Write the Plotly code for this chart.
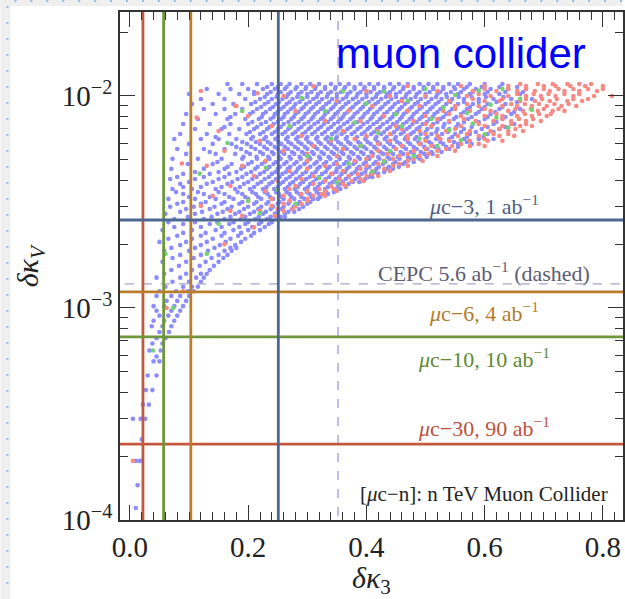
import math
import plotly.graph_objects as go

# ---------------- data ----------------
X_RANGE = [-0.0168, 0.834]
Y_LOG_RANGE = [-4.0, -1.604]

X_TICKS = [0.0, 0.2, 0.4, 0.6, 0.8]
X_TICK_TEXT = ["0.0", "0.2", "0.4", "0.6", "0.8"]
Y_TICKS = [1e-4, 1e-3, 1e-2]
Y_TICK_TEXT = ["10<sup>−4</sup>", "10<sup>−3</sup>", "10<sup>−2</sup>"]

# muon collider bounds: (delta kappa_3, delta kappa_V)
BOUND_NAMES = ["μc-30", "μc-10", "μc-6", "μc-3"]
BOUND_K3 = [0.022, 0.057, 0.103, 0.251]
BOUND_KV = [0.000228, 0.00073, 0.00119, 0.0026]
BOUND_COLORS = ["#c4583e", "#6e963a", "#b87e2c", "#4d6890"]
CEPC_K3 = 0.352
CEPC_KV = 0.00130

# scan points, rows of (delta kappa_V, [delta kappa_3 ...])
BLUE_ROWS = [
    (0.01139, [0.165, 0.19, 0.215, 0.24, 0.255, 0.27, 0.29, 0.305, 0.32, 0.34, 0.355, 0.37, 0.39, 0.405, 0.42, 0.44, 0.455, 0.47, 0.49, 0.505, 0.52, 0.54, 0.555, 0.575, 0.60, 0.63]),
    (0.01103, [0.232, 0.25, 0.265, 0.282, 0.298, 0.314, 0.33, 0.348, 0.364, 0.38, 0.397, 0.413, 0.43, 0.447, 0.463, 0.48, 0.497, 0.513, 0.53, 0.548, 0.57, 0.595, 0.625, 0.655]),
    (0.01079, [0.13, 0.17, 0.20, 0.225, 0.245, 0.262, 0.28, 0.297, 0.313, 0.33, 0.347, 0.362, 0.38, 0.396, 0.413, 0.43, 0.445, 0.462, 0.48, 0.497, 0.513, 0.53, 0.55, 0.565, 0.585, 0.61, 0.64, 0.67]),
    (0.01044, [0.21, 0.238, 0.255, 0.272, 0.29, 0.307, 0.323, 0.34, 0.357, 0.373, 0.39, 0.407, 0.423, 0.44, 0.457, 0.473, 0.49, 0.507, 0.525, 0.543, 0.56, 0.58, 0.605, 0.635, 0.665]),
    (0.01022, [0.10, 0.15, 0.185, 0.21, 0.232, 0.25, 0.268, 0.285, 0.30, 0.318, 0.335, 0.35, 0.368, 0.385, 0.40, 0.418, 0.435, 0.45, 0.468, 0.485, 0.50, 0.52, 0.535, 0.555, 0.575, 0.60, 0.625, 0.66]),
    (0.00989, [0.228, 0.248, 0.265, 0.283, 0.30, 0.316, 0.333, 0.35, 0.366, 0.383, 0.40, 0.416, 0.433, 0.45, 0.466, 0.483, 0.50, 0.518, 0.536, 0.556, 0.578, 0.602, 0.632]),
    (0.00968, [0.12, 0.16, 0.195, 0.22, 0.24, 0.258, 0.275, 0.292, 0.31, 0.325, 0.342, 0.36, 0.377, 0.393, 0.41, 0.425, 0.442, 0.46, 0.475, 0.492, 0.51, 0.527, 0.545, 0.565, 0.59, 0.615, 0.645, 0.68]),
    (0.00937, [0.212, 0.234, 0.252, 0.27, 0.287, 0.304, 0.32, 0.337, 0.354, 0.37, 0.387, 0.404, 0.42, 0.437, 0.454, 0.47, 0.487, 0.505, 0.522, 0.542, 0.565, 0.59, 0.62, 0.655]),
    (0.00917, [0.105, 0.14, 0.175, 0.205, 0.228, 0.247, 0.265, 0.28, 0.298, 0.315, 0.332, 0.348, 0.365, 0.382, 0.398, 0.415, 0.432, 0.448, 0.465, 0.482, 0.50, 0.517, 0.535, 0.555, 0.58, 0.605, 0.635]),
    (0.00887, [0.222, 0.242, 0.26, 0.277, 0.294, 0.31, 0.327, 0.344, 0.36, 0.377, 0.394, 0.41, 0.427, 0.444, 0.46, 0.477, 0.494, 0.512, 0.53, 0.55, 0.575, 0.60, 0.63]),
    (0.00868, [0.125, 0.16, 0.19, 0.215, 0.237, 0.255, 0.272, 0.29, 0.306, 0.323, 0.34, 0.356, 0.373, 0.39, 0.406, 0.423, 0.44, 0.456, 0.473, 0.49, 0.508, 0.525, 0.545, 0.57, 0.595, 0.625, 0.66]),
    (0.00840, [0.208, 0.23, 0.25, 0.267, 0.285, 0.302, 0.318, 0.335, 0.352, 0.368, 0.385, 0.402, 0.418, 0.435, 0.452, 0.468, 0.485, 0.503, 0.52, 0.54, 0.565, 0.59, 0.618, 0.65]),
    (0.00822, [0.095, 0.145, 0.178, 0.203, 0.225, 0.245, 0.262, 0.28, 0.297, 0.313, 0.33, 0.347, 0.363, 0.38, 0.397, 0.413, 0.43, 0.447, 0.463, 0.48, 0.498, 0.515, 0.535, 0.56, 0.585, 0.61, 0.645]),
    (0.00796, [0.17, 0.223, 0.243, 0.26, 0.277, 0.294, 0.31, 0.327, 0.344, 0.36, 0.377, 0.394, 0.41, 0.427, 0.444, 0.46, 0.477, 0.494, 0.512, 0.53, 0.552, 0.578, 0.605, 0.635]),
    (0.00779, [0.115, 0.165, 0.195, 0.218, 0.238, 0.256, 0.273, 0.29, 0.307, 0.323, 0.34, 0.357, 0.373, 0.39, 0.407, 0.423, 0.44, 0.457, 0.473, 0.49, 0.507, 0.525, 0.548, 0.572, 0.60, 0.63]),
    (0.00754, [0.207, 0.23, 0.25, 0.268, 0.285, 0.302, 0.318, 0.335, 0.352, 0.368, 0.385, 0.402, 0.418, 0.435, 0.452, 0.468, 0.485, 0.502, 0.52, 0.54, 0.565, 0.59, 0.62]),
    (0.00738, [0.09, 0.135, 0.17, 0.20, 0.222, 0.243, 0.26, 0.278, 0.295, 0.312, 0.328, 0.345, 0.362, 0.378, 0.395, 0.412, 0.428, 0.445, 0.462, 0.478, 0.495, 0.513, 0.532, 0.555, 0.58, 0.615, 0.65]),
    (0.00714, [0.16, 0.215, 0.236, 0.255, 0.272, 0.29, 0.306, 0.323, 0.34, 0.356, 0.373, 0.39, 0.406, 0.423, 0.44, 0.456, 0.473, 0.49, 0.51, 0.53, 0.552, 0.578, 0.605, 0.635]),
    (0.00699, [0.11, 0.155, 0.185, 0.21, 0.232, 0.25, 0.268, 0.285, 0.302, 0.318, 0.335, 0.352, 0.368, 0.385, 0.402, 0.418, 0.435, 0.452, 0.468, 0.485, 0.503, 0.52, 0.54, 0.565, 0.595, 0.625]),
    (0.00676, [0.203, 0.226, 0.245, 0.263, 0.28, 0.297, 0.313, 0.33, 0.347, 0.363, 0.38, 0.397, 0.413, 0.43, 0.447, 0.463, 0.48, 0.50, 0.518, 0.538, 0.56, 0.585, 0.615]),
    (0.00662, [0.085, 0.13, 0.168, 0.197, 0.22, 0.24, 0.258, 0.275, 0.292, 0.308, 0.325, 0.342, 0.358, 0.375, 0.392, 0.408, 0.425, 0.442, 0.458, 0.475, 0.492, 0.51, 0.528, 0.55, 0.575, 0.605]),
    (0.00640, [0.145, 0.208, 0.23, 0.25, 0.267, 0.284, 0.30, 0.317, 0.334, 0.35, 0.367, 0.384, 0.40, 0.417, 0.434, 0.45, 0.467, 0.485, 0.503, 0.522, 0.545, 0.57, 0.598]),
    (0.00627, [0.075, 0.12, 0.15, 0.18, 0.205, 0.227, 0.246, 0.264, 0.281, 0.298, 0.315, 0.331, 0.348, 0.365, 0.381, 0.398, 0.415, 0.431, 0.448, 0.465, 0.482, 0.50, 0.518, 0.54, 0.565, 0.59, 0.615]),
    (0.00607, [0.19, 0.213, 0.233, 0.251, 0.268, 0.285, 0.302, 0.319, 0.336, 0.352, 0.369, 0.386, 0.402, 0.419, 0.436, 0.452, 0.47, 0.488, 0.506, 0.525, 0.548, 0.57]),
    (0.00594, [0.10, 0.14, 0.172, 0.198, 0.22, 0.238, 0.256, 0.273, 0.29, 0.307, 0.323, 0.34, 0.357, 0.373, 0.39, 0.407, 0.423, 0.44, 0.457, 0.474, 0.492, 0.51, 0.53, 0.555, 0.578]),
    (0.00575, [0.18, 0.205, 0.227, 0.245, 0.262, 0.279, 0.296, 0.313, 0.33, 0.346, 0.363, 0.38, 0.396, 0.413, 0.43, 0.446, 0.463, 0.48, 0.498, 0.516, 0.535, 0.555]),
    (0.00562, [0.08, 0.125, 0.16, 0.188, 0.212, 0.232, 0.25, 0.267, 0.284, 0.30, 0.317, 0.334, 0.35, 0.367, 0.384, 0.40, 0.417, 0.434, 0.45, 0.467, 0.485, 0.503, 0.522, 0.54]),
    (0.00544, [0.135, 0.197, 0.22, 0.24, 0.257, 0.274, 0.291, 0.308, 0.324, 0.341, 0.358, 0.374, 0.391, 0.408, 0.424, 0.441, 0.458, 0.475, 0.492, 0.51, 0.527]),
    (0.00533, [0.095, 0.145, 0.178, 0.203, 0.225, 0.243, 0.261, 0.278, 0.295, 0.311, 0.328, 0.345, 0.361, 0.378, 0.395, 0.411, 0.428, 0.445, 0.462, 0.48, 0.498, 0.512]),
    (0.00516, [0.192, 0.214, 0.234, 0.252, 0.27, 0.287, 0.303, 0.32, 0.336, 0.353, 0.37, 0.386, 0.403, 0.42, 0.436, 0.453, 0.47, 0.487, 0.502]),
    (0.00505, [0.072, 0.115, 0.155, 0.19, 0.215, 0.236, 0.255, 0.272, 0.289, 0.305, 0.322, 0.339, 0.355, 0.372, 0.389, 0.405, 0.422, 0.439, 0.456, 0.473, 0.49]),
    (0.00488, [0.148, 0.206, 0.228, 0.247, 0.265, 0.282, 0.299, 0.316, 0.332, 0.349, 0.366, 0.382, 0.399, 0.416, 0.432, 0.449, 0.466, 0.48]),
    (0.00478, [0.098, 0.14, 0.172, 0.20, 0.223, 0.243, 0.261, 0.278, 0.295, 0.312, 0.328, 0.345, 0.362, 0.378, 0.395, 0.412, 0.428, 0.445, 0.462]),
    (0.00463, [0.165, 0.193, 0.216, 0.236, 0.254, 0.271, 0.288, 0.305, 0.321, 0.338, 0.355, 0.371, 0.388, 0.405, 0.421, 0.438, 0.455]),
    (0.00453, [0.07, 0.125, 0.16, 0.188, 0.212, 0.232, 0.25, 0.267, 0.284, 0.30, 0.317, 0.334, 0.35, 0.367, 0.384, 0.40, 0.417, 0.434, 0.445]),
    (0.00438, [0.11, 0.15, 0.18, 0.205, 0.227, 0.246, 0.264, 0.281, 0.298, 0.314, 0.331, 0.348, 0.364, 0.381, 0.398, 0.414, 0.43]),
    (0.00429, [0.09, 0.135, 0.168, 0.197, 0.22, 0.24, 0.258, 0.275, 0.292, 0.308, 0.325, 0.342, 0.358, 0.375, 0.392, 0.408, 0.42]),
    (0.00415, [0.08, 0.125, 0.16, 0.19, 0.214, 0.235, 0.253, 0.27, 0.287, 0.304, 0.32, 0.337, 0.354, 0.37, 0.387, 0.404, 0.41]),
    (0.00406, [0.068, 0.11, 0.15, 0.182, 0.207, 0.228, 0.247, 0.264, 0.281, 0.298, 0.315, 0.331, 0.348, 0.365, 0.381, 0.398]),
    (0.00393, [0.10, 0.14, 0.173, 0.20, 0.222, 0.241, 0.259, 0.276, 0.293, 0.31, 0.327, 0.343, 0.36, 0.377, 0.388]),
    (0.00385, [0.085, 0.13, 0.165, 0.193, 0.216, 0.236, 0.254, 0.271, 0.288, 0.305, 0.321, 0.338, 0.355, 0.37]),
    (0.00372, [0.09, 0.12, 0.155, 0.186, 0.21, 0.231, 0.25, 0.267, 0.284, 0.301, 0.318, 0.335, 0.352, 0.365]),
    (0.00364, [0.072, 0.105, 0.145, 0.178, 0.203, 0.225, 0.244, 0.262, 0.279, 0.296, 0.313, 0.33, 0.345, 0.356]),
    (0.00352, [0.078, 0.115, 0.15, 0.182, 0.207, 0.228, 0.247, 0.265, 0.282, 0.299, 0.316, 0.332, 0.345]),
    (0.00345, [0.09, 0.125, 0.16, 0.19, 0.213, 0.233, 0.252, 0.27, 0.287, 0.304, 0.32, 0.335]),
    (0.00334, [0.10, 0.135, 0.168, 0.195, 0.217, 0.237, 0.256, 0.273, 0.29, 0.307, 0.322]),
    (0.00327, [0.065, 0.11, 0.145, 0.175, 0.20, 0.222, 0.242, 0.26, 0.278, 0.295, 0.31, 0.318]),
    (0.00316, [0.09, 0.128, 0.16, 0.19, 0.214, 0.234, 0.253, 0.27, 0.287, 0.305]),
    (0.00310, [0.08, 0.12, 0.155, 0.185, 0.21, 0.231, 0.25, 0.268, 0.285, 0.30]),
    (0.00300, [0.068, 0.108, 0.143, 0.172, 0.20, 0.222, 0.242, 0.26, 0.277, 0.293]),
    (0.00293, [0.095, 0.135, 0.165, 0.193, 0.217, 0.238, 0.257, 0.274, 0.286]),
    (0.00284, [0.085, 0.122, 0.157, 0.185, 0.21, 0.23, 0.25, 0.268, 0.278]),
    (0.00278, [0.06, 0.11, 0.148, 0.178, 0.203, 0.225, 0.245, 0.262]),
    (0.00269, [0.098, 0.138, 0.17, 0.195, 0.218, 0.238, 0.255, 0.262]),
    (0.00263, [0.075, 0.125, 0.16, 0.188, 0.212, 0.232, 0.25]),
    (0.00254, [0.065, 0.11, 0.148, 0.175, 0.20, 0.222, 0.24]),
    (0.00249, [0.09, 0.135, 0.168, 0.195, 0.218, 0.235]),
    (0.00241, [0.075, 0.12, 0.155, 0.185, 0.207, 0.228]),
    (0.00233, [0.055, 0.105, 0.145, 0.175, 0.20, 0.22]),
    (0.00226, [0.09, 0.128, 0.16, 0.188, 0.21]),
    (0.00219, [0.08, 0.12, 0.155, 0.183, 0.205]),
    (0.00212, [0.065, 0.105, 0.14, 0.17, 0.195]),
    (0.00205, [0.05, 0.095, 0.13, 0.162, 0.188]),
    (0.00198, [0.085, 0.12, 0.152, 0.178]),
    (0.00192, [0.07, 0.11, 0.143, 0.17, 0.18]),
    (0.00186, [0.058, 0.10, 0.132, 0.16, 0.172]),
    (0.00178, [0.085, 0.12, 0.15, 0.165]),
    (0.00172, [0.072, 0.108, 0.138, 0.158]),
    (0.00165, [0.055, 0.095, 0.128, 0.15]),
    (0.00158, [0.083, 0.118, 0.142]),
    (0.00151, [0.07, 0.105, 0.135]),
    (0.00145, [0.058, 0.095, 0.12, 0.13]),
    (0.00139, [0.045, 0.085, 0.112, 0.125]),
    (0.00133, [0.072, 0.10, 0.12]),
    (0.00126, [0.06, 0.09, 0.105, 0.115]),
    (0.00120, [0.05, 0.078, 0.098, 0.108]),
    (0.00114, [0.045, 0.07, 0.085, 0.10]),
    (0.00108, [0.062, 0.08, 0.095]),
    (0.00102, [0.04, 0.058, 0.075, 0.09]),
    (0.00097, [0.045, 0.07, 0.085]),
    (0.00092, [0.05, 0.065, 0.08]),
    (0.00087, [0.04, 0.058, 0.075]),
    (0.00082, [0.037, 0.055, 0.07]),
    (0.00077, [0.05, 0.066]),
    (0.00072, [0.045, 0.06]),
    (0.00068, [0.038, 0.055]),
    (0.00063, [0.033, 0.052]),
    (0.00059, [0.045]),
    (0.00056, [0.04, 0.05]),
    (0.00048, [0.03, 0.045]),
    (0.00041, [0.027, 0.038]),
    (0.00035, [0.022, 0.032]),
    (0.00030, [0.005, 0.018, 0.026]),
    (0.00024, [0.02]),
    (0.00019, [0.01, 0.017]),
    (0.000146, [0.013]),
    (0.000114, [0.01]),
]

RED_ROWS = [
    (0.01139, [0.66, 0.69, 0.715, 0.74, 0.76, 0.78]),
    (0.01115, [0.31, 0.47, 0.56, 0.60, 0.64, 0.67, 0.70, 0.72, 0.745, 0.77, 0.80]),
    (0.01079, [0.60, 0.64, 0.67, 0.70, 0.725, 0.75, 0.775, 0.80]),
    (0.01056, [0.12, 0.40, 0.52, 0.58, 0.62, 0.655, 0.685, 0.71, 0.735, 0.76, 0.79]),
    (0.01022, [0.59, 0.655, 0.683, 0.708, 0.735, 0.76]),
    (0.01000, [0.26, 0.44, 0.50, 0.57, 0.61, 0.64, 0.67, 0.695, 0.72, 0.75, 0.785, 0.815]),
    (0.00968, [0.58, 0.63, 0.67, 0.697, 0.722, 0.75, 0.775]),
    (0.00947, [0.35, 0.46, 0.54, 0.60, 0.625, 0.66, 0.685, 0.71, 0.74, 0.765]),
    (0.00917, [0.57, 0.645, 0.668, 0.692, 0.718, 0.742]),
    (0.00897, [0.18, 0.41, 0.49, 0.55, 0.59, 0.63, 0.655, 0.68, 0.705, 0.73, 0.755]),
    (0.00868, [0.55, 0.60, 0.652, 0.678, 0.70, 0.725]),
    (0.00850, [0.28, 0.37, 0.47, 0.53, 0.575, 0.61, 0.64, 0.665, 0.69, 0.715, 0.735]),
    (0.00822, [0.54, 0.62, 0.668, 0.692, 0.712]),
    (0.00805, [0.20, 0.43, 0.50, 0.56, 0.60, 0.63, 0.655, 0.68, 0.705]),
    (0.00779, [0.52, 0.565, 0.63, 0.658, 0.682]),
    (0.00762, [0.33, 0.39, 0.48, 0.54, 0.585, 0.615, 0.645, 0.67, 0.695]),
    (0.00738, [0.50, 0.59, 0.645, 0.67]),
    (0.00722, [0.24, 0.45, 0.51, 0.56, 0.60, 0.63, 0.66, 0.68]),
    (0.00699, [0.46, 0.55, 0.625, 0.652]),
    (0.00684, [0.15, 0.36, 0.42, 0.49, 0.535, 0.575, 0.61, 0.64, 0.665]),
    (0.00662, [0.44, 0.50, 0.57, 0.615, 0.64]),
    (0.00648, [0.29, 0.40, 0.47, 0.52, 0.555, 0.59, 0.625, 0.65]),
    (0.00627, [0.38, 0.47, 0.525, 0.60]),
    (0.00614, [0.22, 0.34, 0.44, 0.50, 0.54, 0.575, 0.605, 0.63]),
    (0.00594, [0.42, 0.49, 0.56, 0.59]),
    (0.00581, [0.31, 0.39, 0.46, 0.51, 0.545, 0.575, 0.60]),
    (0.00562, [0.36, 0.45, 0.50, 0.535]),
    (0.00551, [0.16, 0.26, 0.42, 0.48, 0.52, 0.55]),
    (0.00533, [0.30, 0.435, 0.47, 0.505]),
    (0.00521, [0.35, 0.41, 0.455, 0.49, 0.52]),
    (0.00505, [0.40, 0.445, 0.48]),
    (0.00494, [0.23, 0.30, 0.38, 0.43, 0.47, 0.495]),
    (0.00478, [0.35, 0.42, 0.455]),
    (0.00468, [0.13, 0.19, 0.33, 0.40, 0.445, 0.47]),
    (0.00453, [0.30, 0.39, 0.43]),
    (0.00443, [0.27, 0.36, 0.41, 0.44]),
    (0.00429, [0.34, 0.385, 0.41]),
    (0.00419, [0.21, 0.31, 0.37, 0.40, 0.42]),
    (0.00406, [0.29, 0.355, 0.39]),
    (0.00397, [0.25, 0.33, 0.375, 0.395]),
    (0.00385, [0.31, 0.36]),
    (0.00376, [0.17, 0.28, 0.34, 0.365]),
    (0.00364, [0.27, 0.32, 0.345]),
    (0.00356, [0.23, 0.30, 0.33, 0.35]),
    (0.00345, [0.29, 0.325]),
    (0.00338, [0.14, 0.26, 0.31, 0.33]),
    (0.00327, [0.24, 0.30]),
    (0.00320, [0.20, 0.27, 0.30]),
    (0.00310, [0.26, 0.29]),
    (0.00303, [0.12, 0.24, 0.28]),
    (0.00293, [0.25, 0.275]),
    (0.00287, [0.17, 0.22, 0.26]),
    (0.00272, [0.19, 0.245]),
    (0.00240, [0.21]),
    (0.00200, [0.16]),
    (0.00790, [0.113]),
    (0.00480, [0.088]),
    (0.01030, [0.216]),
    (0.00900, [0.178]),
    (0.00120, [0.09]),
    (0.00100, [0.062]),
    (0.00019, [0.005]),
]

GREEN_K3 = [0.19, 0.165, 0.118, 0.23, 0.073, 0.039, 0.06, 0.25, 0.27, 0.29, 0.30, 0.32, 0.33, 0.34, 0.36, 0.37, 0.38, 0.39, 0.40, 0.41, 0.42, 0.43, 0.44, 0.45, 0.46, 0.47, 0.48, 0.49, 0.50, 0.51, 0.52, 0.53, 0.54, 0.55, 0.56, 0.57, 0.58, 0.59, 0.60, 0.61, 0.62, 0.63, 0.64, 0.66, 0.68, 0.22, 0.20, 0.15, 0.13, 0.28, 0.35, 0.43]
GREEN_KV = [0.0085, 0.0060, 0.0043, 0.0046, 0.0010, 0.00063, 0.0018, 0.0036, 0.0072, 0.0098, 0.0052, 0.0041, 0.0085, 0.0063, 0.0105, 0.0048, 0.0075, 0.0058, 0.0092, 0.0044, 0.0067, 0.0105, 0.0055, 0.0082, 0.0072, 0.0095, 0.0052, 0.0063, 0.0108, 0.0078, 0.0058, 0.0088, 0.0069, 0.0101, 0.0062, 0.0083, 0.0074, 0.0106, 0.0066, 0.0091, 0.0079, 0.0108, 0.0071, 0.0097, 0.0086, 0.0028, 0.0032, 0.0025, 0.0018, 0.0031, 0.0039, 0.0049]


def flatten(rows):
    xs, ys = [], []
    for yv, xl in rows:
        for xv in xl:
            xs.append(xv)
            ys.append(yv)
    return xs, ys


# ---------------- figure ----------------
W, H = 625, 599
L, R, T, B = 120, 0, 12, 79
PW, PH = W - L - R, H - T - B


def px_x(px):
    return (px - L) / PW


def px_y(py):
    return (H - B - py) / PH


fig = go.Figure()

bx, by = flatten(BLUE_ROWS)
rx, ry = flatten(RED_ROWS)
MS = 4.6
fig.add_trace(go.Scatter(x=bx, y=by, mode="markers",
                         marker=dict(size=MS, color="#8c8cff", line=dict(width=0))))
fig.add_trace(go.Scatter(x=rx, y=ry, mode="markers",
                         marker=dict(size=MS, color="#f88a84", line=dict(width=0))))
fig.add_trace(go.Scatter(x=GREEN_K3, y=GREEN_KV, mode="markers",
                         marker=dict(size=MS, color="#74d274", line=dict(width=0))))

xlo, xhi = -0.1, 1.0
ylo, yhi = 1e-5, 1.0
# CEPC dashed
fig.add_trace(go.Scatter(x=[CEPC_K3, CEPC_K3], y=[ylo, yhi], mode="lines",
                         line=dict(color="#9c9cd6", width=1.3, dash="dash")))
fig.add_trace(go.Scatter(x=[xlo, xhi], y=[CEPC_KV, CEPC_KV], mode="lines",
                         line=dict(color="#a4a4c8", width=1.3, dash="dash")))
for k3, kv, c in zip(BOUND_K3, BOUND_KV, BOUND_COLORS):
    fig.add_trace(go.Scatter(x=[k3, k3], y=[ylo, yhi], mode="lines",
                             line=dict(color=c, width=2.8)))
    fig.add_trace(go.Scatter(x=[xlo, xhi], y=[kv, kv], mode="lines",
                             line=dict(color=c, width=2.8)))

minor_y = [m * 10 ** e for e in (-4, -3, -2) for m in range(2, 10) if m * 10 ** e < 0.025]

serif = "Liberation Serif, Times New Roman, serif"
axis_common = dict(showline=True, linecolor="#333", linewidth=1.5, mirror="ticks",
                   ticks="inside", tickcolor="#333", tickwidth=1.3, ticklen=15,
                   showgrid=False, zeroline=False,
                   tickfont=dict(family=serif, size=29, color="#222"))

fig.update_xaxes(range=X_RANGE, tickvals=X_TICKS, ticktext=X_TICK_TEXT,
                 minor=dict(ticks="inside", dtick=0.02, tick0=0, ticklen=8,
                            tickcolor="#333", tickwidth=1.2, showgrid=False),
                 **axis_common)
fig.update_yaxes(type="log", range=Y_LOG_RANGE, tickvals=Y_TICKS, ticktext=Y_TICK_TEXT,
                 minor=dict(ticks="inside", tickvals=minor_y, ticklen=8,
                            tickcolor="#333", tickwidth=1.2, showgrid=False),
                 **axis_common)

ann = []
lab_x = px_x(485)
label_specs = [
    ("<i>μ</i>c−3, 1 ab<sup>−1</sup>", 205, "#4d5f82", 22),
    ("CEPC 5.6 ab<sup>−1</sup> (dashed)", 272, "#5c5c74", 22),
    ("<i>μ</i>c−6, 4 ab<sup>−1</sup>", 312, "#b07c2c", 22),
    ("<i>μ</i>c−10, 10 ab<sup>−1</sup>", 358, "#5e8a30", 22),
    ("<i>μ</i>c−30, 90 ab<sup>−1</sup>", 427, "#c0503a", 22),
    ("[<i>μ</i>c−n]: n TeV Muon Collider", 494, "#222222", 21),
]
for txt, py, col, sz in label_specs:
    ann.append(dict(text=txt, x=lab_x, y=px_y(py), xref="paper", yref="paper",
                    showarrow=False, font=dict(family=serif, size=sz, color=col),
                    xanchor="center", yanchor="middle"))
ann.append(dict(text="muon collider", x=px_x(462), y=px_y(54), xref="paper", yref="paper",
                showarrow=False, font=dict(family="Liberation Sans, Arial, sans-serif",
                                           size=42, color="#0000ff"),
                xanchor="center", yanchor="middle"))
ann.append(dict(text="<i>δκ</i><sub>3</sub>", x=px_x(372), y=px_y(580), xref="paper",
                yref="paper", showarrow=False,
                font=dict(family=serif, size=30, color="#222"),
                xanchor="center", yanchor="middle"))
ann.append(dict(text="<i>δκ<sub>V</sub></i>", x=px_x(30), y=px_y(266), xref="paper",
                yref="paper", showarrow=False, textangle=-90,
                font=dict(family=serif, size=30, color="#222"),
                xanchor="center", yanchor="middle"))

# page frame decoration (grey strips with blue dots)
shapes = [
    dict(type="rect", xref="paper", yref="paper", x0=px_x(0), x1=px_x(10),
         y0=px_y(H), y1=px_y(0), fillcolor="#efefef", line=dict(width=0), layer="below"),
    dict(type="rect", xref="paper", yref="paper", x0=px_x(0), x1=px_x(W),
         y0=px_y(6), y1=px_y(0), fillcolor="#efefef", line=dict(width=0), layer="below"),
]
for k in range(37):
    py = 7 + 16 * k
    shapes.append(dict(type="rect", xref="paper", yref="paper", x0=px_x(6), x1=px_x(8),
                       y0=px_y(py + 1), y1=px_y(py - 1), fillcolor="#93bdea",
                       line=dict(width=0), layer="below"))
for k in range(39):
    px = 15 + 16 * k
    shapes.append(dict(type="rect", xref="paper", yref="paper", x0=px_x(px - 1), x1=px_x(px + 1),
                       y0=px_y(2), y1=px_y(0), fillcolor="#93bdea",
                       line=dict(width=0), layer="below"))

fig.update_layout(width=W, height=H, margin=dict(l=L, r=R, t=T, b=B, pad=0),
                  paper_bgcolor="white", plot_bgcolor="white", showlegend=False,
                  annotations=ann, shapes=shapes)

fig.write_html("out.html")
